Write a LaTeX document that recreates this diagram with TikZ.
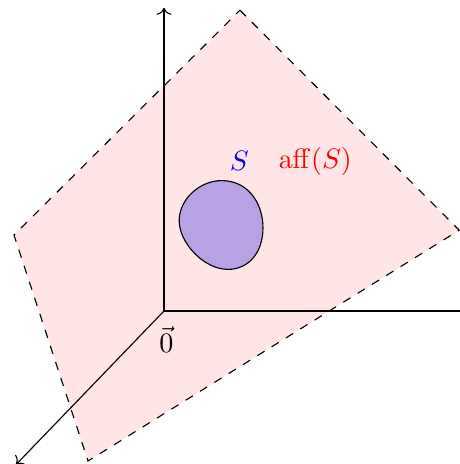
\documentclass[tikz,border=0pt]{standalone}
\usepackage{xcolor}
\usepackage{tikz}
\usepackage{amsmath}
\usepackage{amssymb}
\usetikzlibrary{
  arrows.meta,
  positioning,
  calc
}
\definecolor{affPlane}{HTML}{FFE5E5}
\definecolor{affSet}{HTML}{B9A2E4}
\definecolor{affLabel}{HTML}{FF0000}
\definecolor{setLabel}{HTML}{0000FF}
\tikzset{
  axisline/.style={->, black},
  plane/.style={draw=black, dashed, fill=affPlane},
  setblob/.style={draw=black, fill=affSet},
  tag/.style={inner sep=1pt}
}

\begin{document}
\begin{tikzpicture}[x=1cm, y=1cm]
  \useasboundingbox (-2.05,-1.9125) rectangle (3.6875,3.8875);
  % the affine hull
  \draw[plane] (0.95,3.76) -- (3.69,1.01) -- (-0.95,-1.875) -- (-1.875,0.95) -- cycle;
  % axes
  \coordinate (o) at (0,0);
  \coordinate (xend) at (3.9,0);
  \coordinate (yend) at (0,3.79);
  \coordinate (zend) at (-1.85,-1.92);
  \foreach \e in {xend, yend, zend}{\draw[axisline] (o) -- (\e);}
  % the set S
  \draw[setblob] (0.72,1.63) .. controls (1.08,1.63) and (1.26,1.3) .. (1.235,0.98)
    .. controls (1.21,0.68) and (1.02,0.52) .. (0.8,0.52)
    .. controls (0.5,0.52) and (0.19,0.85) .. (0.19,1.13)
    .. controls (0.19,1.4) and (0.45,1.63) .. (0.72,1.63) -- cycle;
  \node[tag, text=setLabel] (s) at (0.94,1.875) {$S$};
  \node[tag, text=affLabel] (aff) at (1.89,1.875) {$\operatorname{aff}(S)$};
  \node[tag] (zero) at (0.03,-0.36) {$\vec{0}$};
\end{tikzpicture}
\end{document}
